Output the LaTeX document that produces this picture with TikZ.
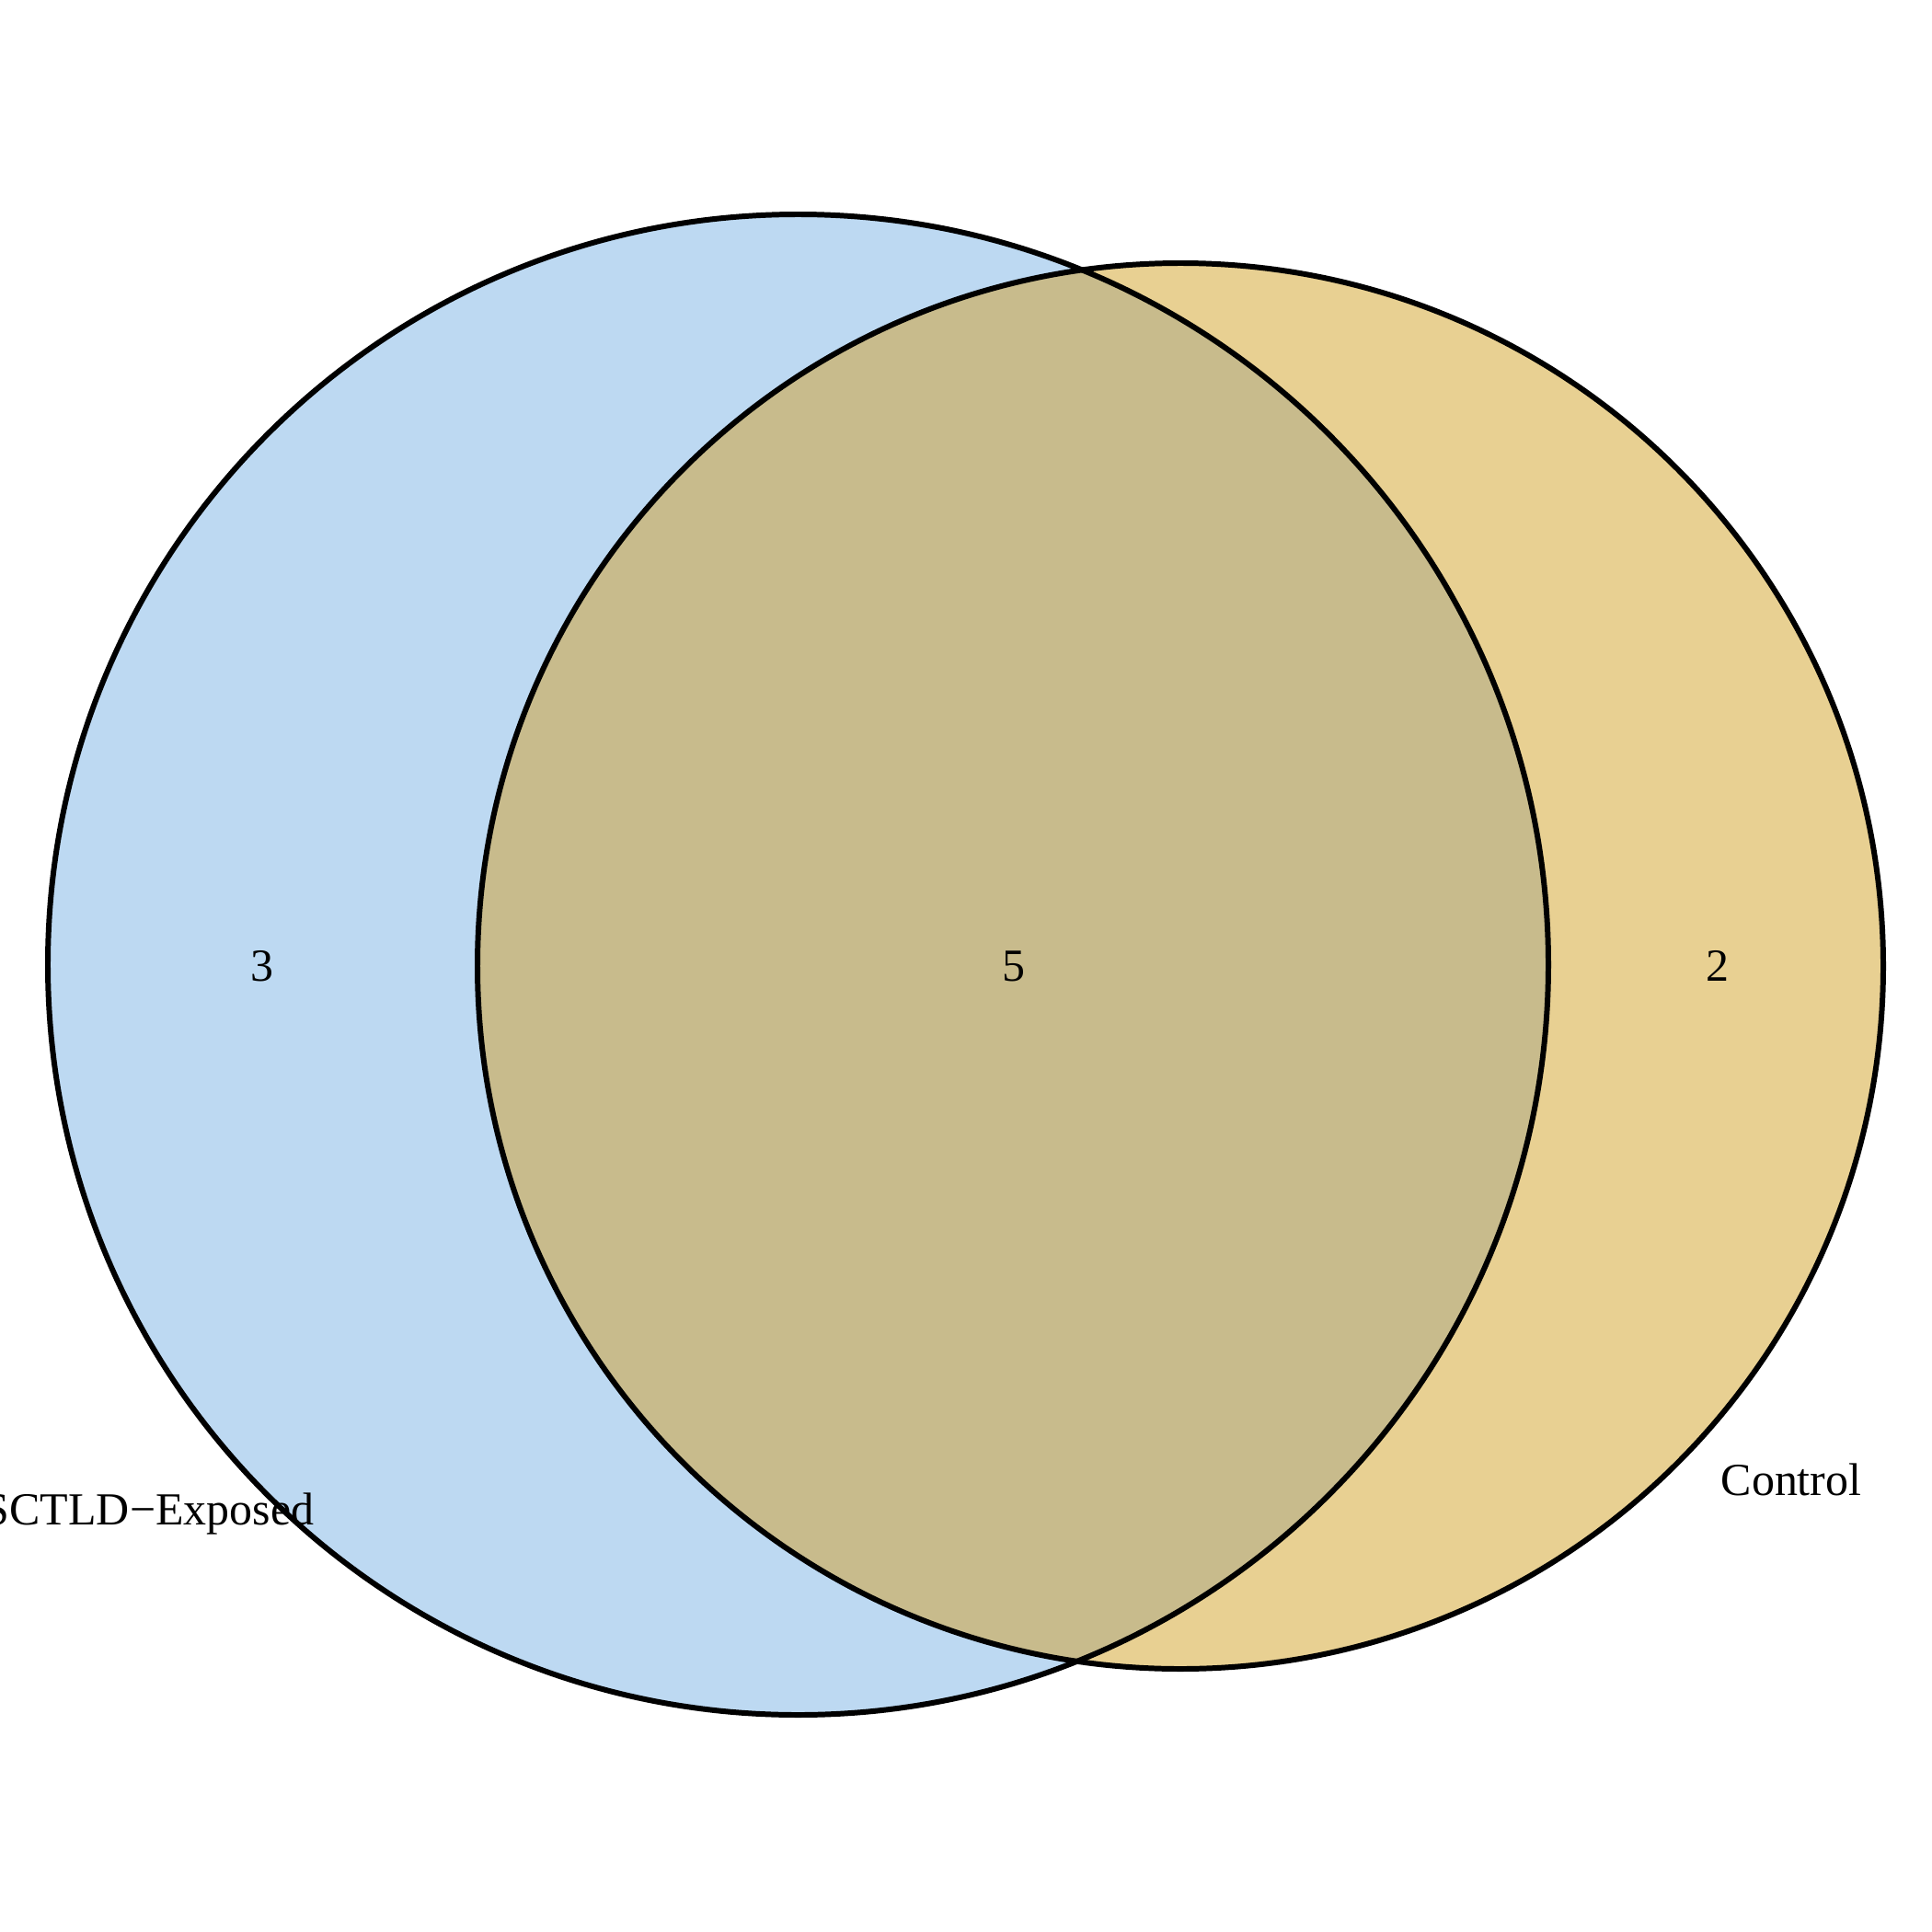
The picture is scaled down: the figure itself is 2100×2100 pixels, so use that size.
\documentclass[tikz,border=0pt]{standalone}
\usepackage{fontspec}
\setmainfont{Liberation Serif}
\definecolor{blueset}{HTML}{BDD9F2}
\definecolor{orangeset}{HTML}{E8D092}
\definecolor{overlapset}{HTML}{C8BB8C}
\begin{document}
\begin{tikzpicture}[x=0.01cm,y=-0.01cm,
  setline/.style={draw=black,line width=1.7pt},
  lbl/.style={inner sep=0pt,anchor=base,font=\fontsize{14.2}{17}\selectfont}]
\useasboundingbox (0,0) rectangle (2100,2100);
\coordinate (cA) at (867.5,1048.5);
\coordinate (cB) at (1283,1050);
\fill[blueset] (cA) circle[radius=815.5];
\fill[orangeset] (cB) circle[radius=764];
\begin{scope}
  \clip (cA) circle[radius=815.5];
  \fill[overlapset] (cB) circle[radius=764];
\end{scope}
\draw[setline] (cA) circle[radius=815.5];
\draw[setline] (cB) circle[radius=764];
\node[lbl] (n3) at (285,1066) {3};
\node[lbl] (n5) at (1102,1066) {5};
\node[lbl] (n2) at (1867,1066) {2};
\node[lbl] (lA) at (162,1657) {SCTLD−Exposed};
\node[lbl] (lB) at (1947,1625) {Control};
\end{tikzpicture}
\end{document}
